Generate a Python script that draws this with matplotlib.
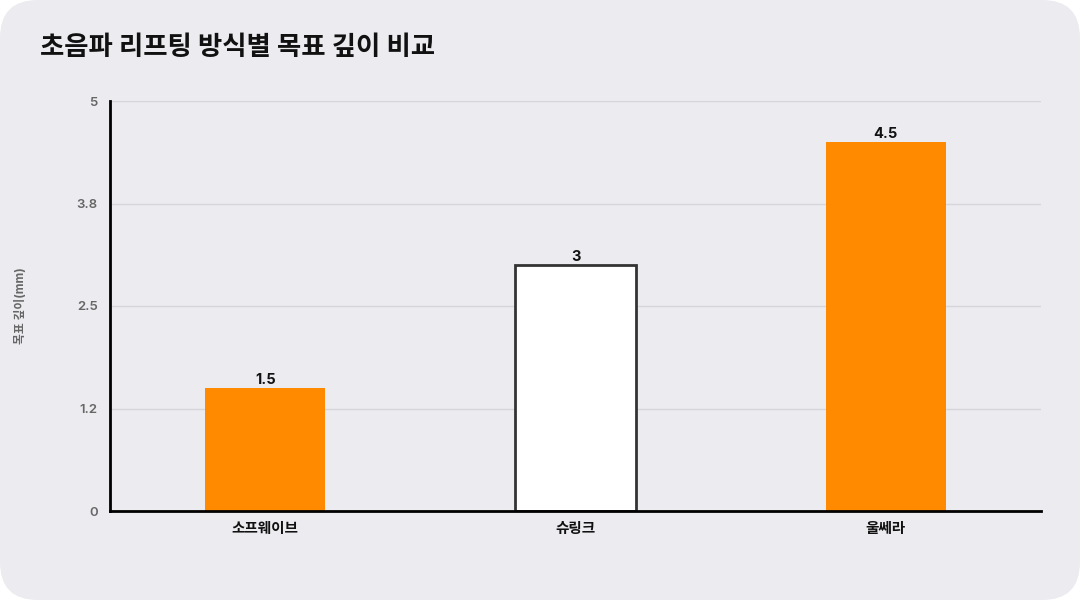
import matplotlib
matplotlib.use("Agg")
import matplotlib.pyplot as plt
from matplotlib.patches import FancyBboxPatch

plt.rcParams['font.family'] = ['Inter', 'Noto Sans CJK KR', 'DejaVu Sans']

title = "초음파 리프팅 방식별 목표 깊이 비교"
ylabel = "목표 깊이(mm)"
categories = ["소프웨이브", "슈링크", "울쎄라"]
values = [1.5, 3, 4.5]
value_labels = ["1.5", "3", "4.5"]
bar_colors = ["#FF8A00", "#FFFFFF", "#FF8A00"]
edge_colors = ["#FF8A00", "#333333", "#FF8A00"]
edge_widths = [0, 2, 0]
yticks = [0, 1.25, 2.5, 3.75, 5]
ytick_labels = ["0", "1.2", "2.5", "3.8", "5"]

W, H = 1080, 600
fig = plt.figure(figsize=(W / 100, H / 100), dpi=100)
fig.patch.set_facecolor("white")
bg = FancyBboxPatch((0, 0), 1, 1, boxstyle="round,pad=0,rounding_size=0.035",
                    transform=fig.transFigure, facecolor="#ECEBF0", edgecolor="none",
                    mutation_aspect=W / H, zorder=-10)
fig.patches.append(bg)

ax = fig.add_axes([110 / W, (H - 511) / H, (1041 - 110) / W, (511 - 101) / H])
ax.set_facecolor("none")

x = list(range(len(categories)))
bars = ax.bar(x, values, width=0.387, color=bar_colors, edgecolor=edge_colors,
              linewidth=edge_widths, zorder=3)
for xi, v, lab in zip(x, values, value_labels):
    ax.text(xi, v + 0.01, lab, ha="center", va="bottom", fontsize=10.5,
            fontweight="bold", color="#111111", zorder=4)

ax.set_xlim(-0.5, 2.5)
ax.set_ylim(0, 5)
ax.set_xticks(x)
ax.set_xticklabels(categories, fontsize=10.5, fontweight="bold", color="#111111")
ax.set_yticks(yticks)
ax.set_yticklabels(ytick_labels, fontsize=9.5, fontweight="semibold", color="#666666")
ax.tick_params(axis="both", length=0)
ax.tick_params(axis="x", pad=8)
ax.tick_params(axis="y", pad=9)
for yt in yticks[1:]:
    ax.axhline(yt, color="#D6D5DB", linewidth=1, zorder=1)
for s in ["top", "right"]:
    ax.spines[s].set_visible(False)
ax.spines["left"].set_linewidth(2)
ax.spines["bottom"].set_linewidth(2)
ax.spines["left"].set_color("black")
ax.spines["bottom"].set_color("black")
ax.spines["left"].set_zorder(5)
ax.spines["bottom"].set_zorder(5)

fig.text(21 / W, (H - 306) / H, ylabel, rotation=90, ha="center", va="center",
         fontsize=8.5, fontweight="bold", color="#666666")
fig.text(40 / W, (H - 48) / H, title, ha="left", va="center", fontsize=19,
         fontweight="bold", color="#111111")

fig.savefig("out.png", dpi=100, facecolor=fig.get_facecolor())
